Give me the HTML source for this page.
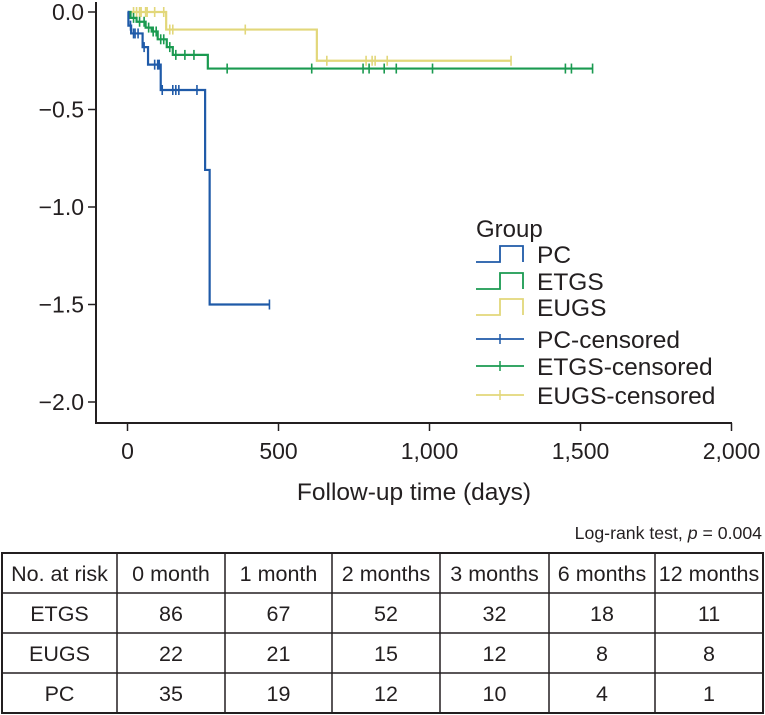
<!DOCTYPE html>
<html><head><meta charset="utf-8"><style>
body{margin:0;background:#fff;width:765px;height:715px;overflow:hidden;font-family:"Liberation Sans",Arial,sans-serif}
svg{position:absolute;left:0;top:0}
</style></head><body>
<svg width="765" height="715" id="chart" font-family="Liberation Sans, Arial, sans-serif"></svg>
<script>
const xTicks=[0,500,1000,1500,2000];
const xTickLabels=["0","500","1,000","1,500","2,000"];
const yTicks=[0,-0.5,-1,-1.5,-2];
const yTickLabels=["0.0","\u22120.5","\u22121.0","\u22121.5","\u22122.0"];
const pcTimes=[0,3,12,50,68,110,257,272];
const pcVals=[0,-0.07,-0.11,-0.18,-0.27,-0.40,-0.81,-1.5];
const pcEnd=470;
const pcCens=[10,20,25,35,55,90,100,105,115,150,160,170,230,470];
const etTimes=[0,10,30,60,80,100,130,150,266];
const etVals=[0,-0.03,-0.05,-0.08,-0.10,-0.14,-0.18,-0.22,-0.29];
const etEnd=1540;
const etCens=[20,40,55,70,85,95,110,120,140,160,190,220,330,610,780,800,850,890,1010,1450,1470,1540];
const euTimes=[0,128,627];
const euVals=[0,-0.09,-0.25];
const euEnd=1270;
const euCens=[20,30,40,45,60,65,90,120,140,150,390,660,790,810,820,860,1270];
const riskCols=["No. at risk","0 month","1 month","2 months","3 months","6 months","12 months"];
const riskGroups=["ETGS","EUGS","PC"];
const riskETGS=[86,67,52,32,18,11];
const riskEUGS=[22,21,15,12,8,8];
const riskPC=[35,19,12,10,4,1];

const X=d=>127.5+d*0.302;
const Y=v=>12-v*195;
const svg=document.getElementById('chart');
const NS="http://www.w3.org/2000/svg";
function mk(tag,attrs,parent){const e=document.createElementNS(NS,tag);for(const k in attrs)e.setAttribute(k,attrs[k]);(parent||svg).appendChild(e);return e;}

let e=mk('line',{x1:96,y1:2,x2:96,y2:423,stroke:'#231f20','stroke-width':2});


e=mk('line',{x1:95,y1:423,x2:732,y2:423,stroke:'#231f20','stroke-width':2});


yTicks.forEach((v,i)=>{
  mk('line',{x1:88,y1:Y(v),x2:96,y2:Y(v),stroke:'#231f20','stroke-width':1.5});
  const t=mk('text',{x:84,y:Y(v)+8,'text-anchor':'end','font-size':23,fill:'#231f20'});
  t.textContent=yTickLabels[i];
  
  
});
xTicks.forEach((d,i)=>{
  mk('line',{x1:X(d),y1:423,x2:X(d),y2:431,stroke:'#231f20','stroke-width':1.5});
  const t=mk('text',{x:X(d),y:459,'text-anchor':'middle','font-size':23,fill:'#231f20'});
  t.textContent=xTickLabels[i];
  
  
});
e=mk('text',{x:414,y:500,'text-anchor':'middle','font-size':24.5,fill:'#231f20'});
e.textContent='Follow-up time (days)';



function series(times,vals,end,cens,color,name){
  let d=`M${X(times[0])},${Y(vals[0])}`;
  for(let i=1;i<times.length;i++){d+=` H${X(times[i])} V${Y(vals[i])}`;}
  d+=` H${X(end)}`;
  const p=mk('path',{d:d,fill:'none',stroke:color,'stroke-width':2.2});
  
  
  cens.forEach(c=>{
    let v=vals[0];
    for(let i=0;i<times.length;i++){if(times[i]<=c)v=vals[i];}
    const l=mk('line',{x1:X(c),y1:Y(v)-5,x2:X(c),y2:Y(v)+5,stroke:color,'stroke-width':1.6});
    
    
  });
}
series(euTimes,euVals,euEnd,euCens,'#e2d77a','eugs');
series(etTimes,etVals,etEnd,etCens,'#1a9a50','etgs');
series(pcTimes,pcVals,pcEnd,pcCens,'#1f5aa8','pc');

const lg=mk('g',{});


e=mk('text',{x:476,y:237,'font-size':24,fill:'#231f20'},lg);e.textContent='Group';
const legItems=[['PC','#1f5aa8',254,1],['ETGS','#1a9a50',281,1],['EUGS','#e2d77a',307,1],['PC-censored','#1f5aa8',339,0],['ETGS-censored','#1a9a50',366,0],['EUGS-censored','#e2d77a',395,0]];
legItems.forEach(it=>{
  const [lab,col,cy,step]=it;
  const g=mk('g',{},lg);
  
  
  if(step){mk('path',{d:`M476,${cy+8} H500 V${cy-8} H523 V${cy+8}`,fill:'none',stroke:col,'stroke-width':1.8},g);}
  else{mk('line',{x1:476,y1:cy,x2:524,y2:cy,stroke:col,'stroke-width':1.8},g);mk('line',{x1:500,y1:cy-5,x2:500,y2:cy+5,stroke:col,'stroke-width':1.5},g);}
  const t=mk('text',{x:537,y:cy+9,'font-size':24.5,fill:'#231f20'},g);t.textContent=lab;
});

e=mk('text',{x:762,y:539,'text-anchor':'end','font-size':17.7,fill:'#231f20'});
e.innerHTML='Log-rank test, <tspan font-style="italic">p</tspan> = 0.004';



const colX=[2,117,225,332,440,549,655,763];
const rowY=[553,593,633,673,713];
const tb=mk('g',{});


mk('rect',{x:2,y:553,width:761,height:160,fill:'none',stroke:'#231f20','stroke-width':2},tb);
colX.slice(1,-1).forEach(x=>mk('line',{x1:x,y1:553,x2:x,y2:713,stroke:'#231f20','stroke-width':1.5},tb));
rowY.slice(1,-1).forEach(y=>mk('line',{x1:2,y1:y,x2:763,y2:y,stroke:'#231f20','stroke-width':1.5},tb));
const rows=[riskCols,[riskGroups[0],...riskETGS],[riskGroups[1],...riskEUGS],[riskGroups[2],...riskPC]];
rows.forEach((r,ri)=>r.forEach((v,ci)=>{
  const t=mk('text',{x:(colX[ci]+colX[ci+1])/2,y:rowY[ri]+28,'text-anchor':'middle','font-size':21.5,fill:'#231f20'},tb);
  t.textContent=v;
  
  
}));
</script>
</body></html>
